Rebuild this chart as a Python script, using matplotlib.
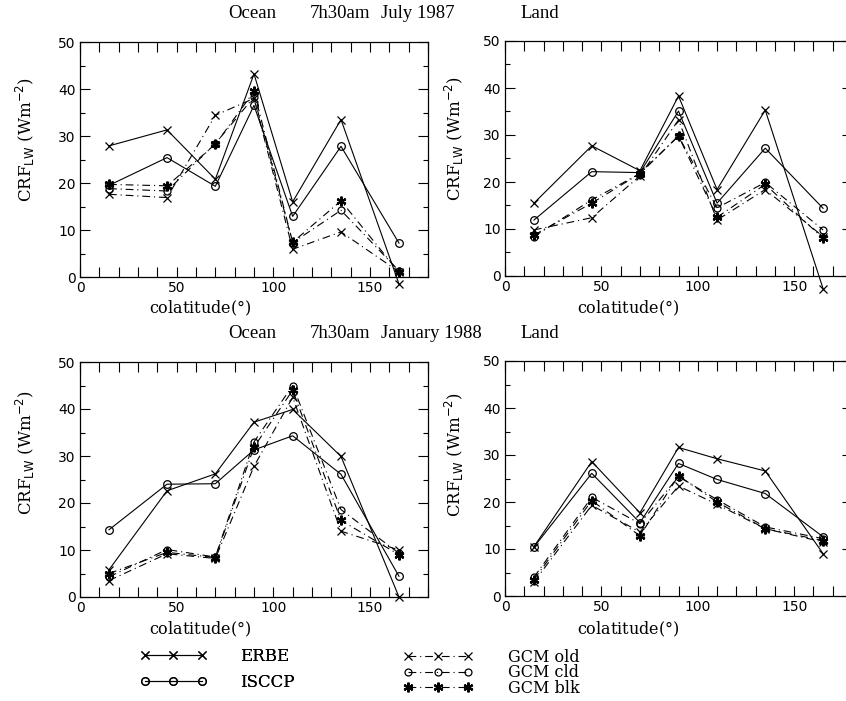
import matplotlib
matplotlib.use("Agg")
import matplotlib.pyplot as plt
import numpy as np

# ---------------- data ----------------
colat = [15, 45, 70, 90, 110, 135, 165]

# July 1987, Ocean
jul_ocean_erbe = [27.9, 31.3, 20.8, 43.2, 16.0, 33.5, -1.5]
jul_ocean_isccp = [19.5, 25.4, 19.3, 36.5, 12.9, 27.8, 7.2]
jul_ocean_old = [17.6, 16.9, 34.4, 38.0, 5.9, 9.6, 1.1]
jul_ocean_cld = [18.8, 18.3, 28.4, 38.3, 7.3, 14.2, 1.3]
jul_ocean_blk = [19.7, 19.4, 28.2, 39.5, 7.4, 16.2, 1.0]

# July 1987, Land
jul_land_erbe = [15.5, 27.7, 22.4, 38.3, 18.4, 35.3, -2.7]
jul_land_isccp = [11.9, 22.2, 22.0, 35.1, 15.5, 27.2, 14.4]
jul_land_old = [9.8, 12.4, 21.3, 33.2, 11.9, 18.4, 8.4]
jul_land_cld = [8.4, 16.2, 21.8, 29.8, 14.5, 19.9, 9.8]
jul_land_blk = [8.7, 15.5, 21.8, 29.8, 12.5, 19.5, 8.0]

# January 1988, Ocean
jan_ocean_erbe = [5.8, 22.6, 26.2, 37.2, 39.9, 29.9, 0.0]
jan_ocean_isccp = [14.3, 24.0, 24.1, 31.3, 34.3, 26.1, 4.4]
jan_ocean_old = [3.5, 9.2, 8.2, 27.8, 42.5, 14.0, 10.0]
jan_ocean_cld = [4.3, 10.1, 8.5, 33.0, 45.0, 18.6, 9.3]
jan_ocean_blk = [5.0, 9.5, 8.4, 31.9, 44.0, 16.3, 9.0]

# January 1988, Land
jan_land_erbe = [10.5, 28.6, 17.7, 31.6, 29.2, 26.6, 9.0]
jan_land_isccp = [10.4, 26.1, 15.6, 28.2, 24.8, 21.8, 12.6]
jan_land_old = [3.0, 19.3, 13.6, 23.4, 19.5, 14.3, 11.5]
jan_land_cld = [4.0, 21.0, 15.4, 25.4, 20.5, 14.7, 12.2]
jan_land_blk = [3.5, 20.3, 12.8, 25.6, 20.0, 14.3, 11.8]

series_names = ["ERBE", "ISCCP", "GCM old", "GCM cld", "GCM blk"]
row_titles = [("Ocean", "7h30am", "July 1987", "Land"),
              ("Ocean", "7h30am", "January 1988", "Land")]

panels = [
    [jul_ocean_erbe, jul_ocean_isccp, jul_ocean_old, jul_ocean_cld, jul_ocean_blk],
    [jul_land_erbe, jul_land_isccp, jul_land_old, jul_land_cld, jul_land_blk],
    [jan_ocean_erbe, jan_ocean_isccp, jan_ocean_old, jan_ocean_cld, jan_ocean_blk],
    [jan_land_erbe, jan_land_isccp, jan_land_old, jan_land_cld, jan_land_blk],
]

# ---------------- styling ----------------
W, H = 846, 701
SERIF = "DejaVu Serif"
TITLE_FONT = "Liberation Serif"
dashdot = (0, (7, 3.5, 1, 3.5))
styles = [
    dict(ls="-", marker="x", ms=6, mew=0.9),
    dict(ls="-", marker="o", ms=5.5, mew=0.9),
    dict(ls=dashdot, marker="x", ms=6, mew=0.9),
    dict(ls=dashdot, marker="o", ms=5, mew=0.9),
    dict(ls=dashdot, marker=(6, 2, 0), ms=7, mew=1.6),
]

fig = plt.figure(figsize=(W / 100, H / 100), dpi=100)


def rect(l, t, r, b):
    return [l / W, 1 - b / H, (r - l) / W, (b - t) / H]


rects = [rect(80, 42, 428, 277), rect(505, 41, 852, 276),
         rect(80, 362, 428, 597), rect(505, 361, 852, 596)]

handles = []
for i, (rc, data) in enumerate(zip(rects, panels)):
    ax = fig.add_axes(rc)
    hs = []
    for vals, st, name in zip(data, styles, series_names):
        h, = ax.plot(colat, vals, color="black", lw=0.8, ls=st["ls"],
                     marker=st["marker"], ms=st["ms"], mew=st["mew"],
                     mfc="none", clip_on=False, label=name)
        hs.append(h)
    if i == 0:
        handles = hs
    ax.set_xlim(0, 180)
    ax.set_ylim(0, 50)
    ax.set_xticks(np.arange(0, 181, 10))
    ax.set_xticklabels([str(v) if v % 50 == 0 else ""
                        for v in range(0, 181, 10)])
    ax.set_yticks(np.arange(0, 51, 10))
    ax.set_yticks(np.arange(0, 51, 5), minor=True)
    ax.tick_params(axis="both", which="major", direction="in", length=7,
                   width=0.8, top=True, right=True, labelsize=10, pad=3)
    ax.tick_params(axis="both", which="minor", direction="in", length=3.5,
                   width=0.8, top=True, right=True)
    for sp in ax.spines.values():
        sp.set_linewidth(0.9)
    for lab in ax.get_xticklabels() + ax.get_yticklabels():
        lab.set_family("DejaVu Sans")

# axis labels as figure text (pixel positions)
for (x, y) in [(200, 308), (628, 308), (200, 629), (628, 629)]:
    fig.text(x / W, 1 - y / H, "colatitude($\\degree$)", ha="center", va="center",
             family=SERIF, fontsize=11.5)
for (x, y) in [(25, 139), (454, 138), (25, 452), (454, 454)]:
    fig.text(x / W, 1 - y / H, r"CRF$_{\rm LW}$ (Wm$^{-2}$)", ha="center",
             va="center", rotation=90, family=SERIF, fontsize=12)

# row titles (left edges in pixels)
for words, y in zip(row_titles, [14, 333]):
    for word, x in zip(words, [228, 310, 381, 520]):
        fig.text(x / W, 1 - y / H, word, ha="left", va="center",
                 family=TITLE_FONT, fontsize=13.5)

# legends
leg1 = fig.legend(handles[:2], series_names[:2], loc="upper left",
                  bbox_to_anchor=(140 / W, 1 - 648 / H), frameon=False,
                  numpoints=3, handlelength=4.0, handletextpad=2.0,
                  labelspacing=0.55, borderpad=0, borderaxespad=0,
                  prop=dict(family=SERIF, size=12))
leg2 = fig.legend(handles[2:], series_names[2:], loc="upper left",
                  bbox_to_anchor=(403 / W, 1 - 649 / H), frameon=False,
                  numpoints=3, handlelength=4.4, handletextpad=2.2,
                  labelspacing=-0.1, borderpad=0, borderaxespad=0,
                  prop=dict(family=SERIF, size=11.5))
fig.add_artist(leg1)

fig.savefig("out.png", dpi=100)
